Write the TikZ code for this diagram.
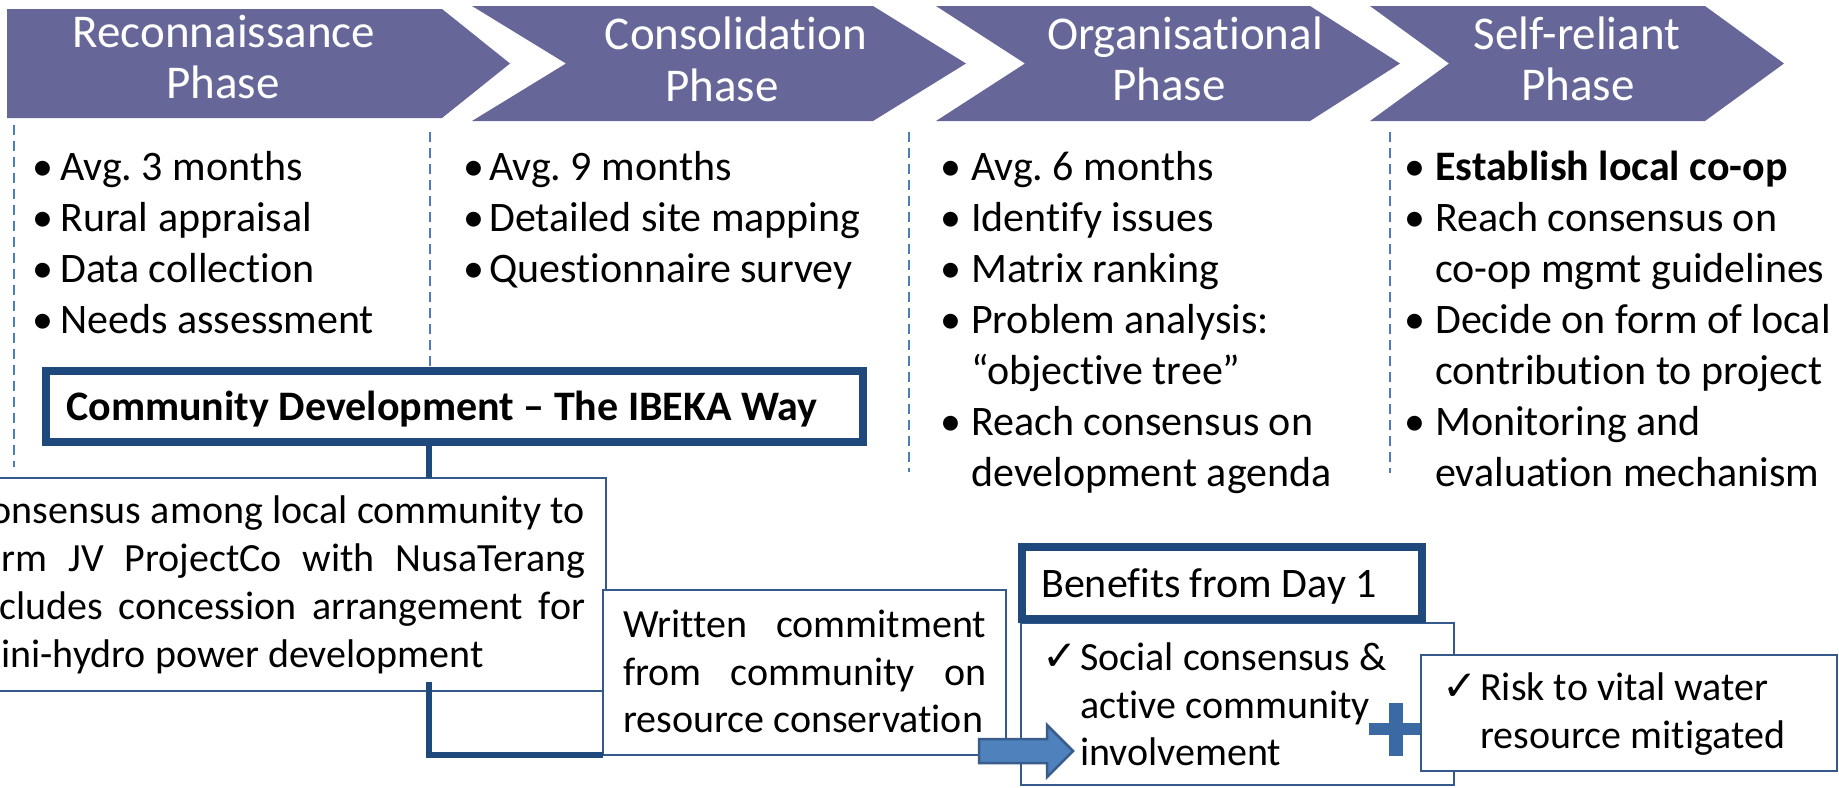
\documentclass[tikz,border=0pt]{standalone}
\usepackage{fontspec}
\setmainfont{Carlito}[Ligatures=NoCommon]
\newfontfamily\dejavu{DejaVu Sans}
\frenchspacing
\definecolor{chevfill}{HTML}{666699}
\definecolor{dashblue}{HTML}{4A7EBB}
\definecolor{thickblue}{HTML}{1F497D}
\definecolor{thinblue}{HTML}{34598A}
\definecolor{arrowfill}{HTML}{4F81BD}
\definecolor{arrowline}{HTML}{385D8A}
\definecolor{plusblue}{HTML}{3B69A3}
\tikzset{
  hdr/.style={text=white, font=\fontsize{47}{52}\selectfont, inner sep=0pt, anchor=base},
  bul/.style={font=\fontsize{42}{51}\selectfont, inner sep=0pt, anchor=base west},
  bdot/.style={font=\fontsize{42}{51}\selectfont, inner sep=0pt, anchor=base},
  btxt/.style={font=\fontsize{40}{48}\selectfont, inner sep=0pt, anchor=base west},
  chk/.style={font=\dejavu\fontsize{42}{42}\selectfont, inner sep=0pt, anchor=base west},
  sepline/.style={draw=dashblue, line width=1.5pt, dash pattern=on 10pt off 6pt},
  thinbox/.style={draw=thinblue, line width=2pt, fill=white, inner sep=0pt, outer sep=0pt, anchor=north west},
  thickbox/.style={draw=thickblue, line width=8pt, fill=white, inner sep=0pt, outer sep=0pt, anchor=north west},
  link/.style={draw=thickblue, line width=6pt},
}
\begin{document}
\begin{tikzpicture}[x=1pt,y=-1pt]
\path[use as bounding box] (0,0) rectangle (1839,787);
\clip (0,0) rectangle (1839,787);
\fill[white] (0,0) rectangle (1839,787);

% chevrons
\fill[chevfill] (7,9) -- (442,9) -- (510,63.5) -- (442,118) -- (7,118) -- cycle;
\fill[chevfill] (472,6) -- (873,6) -- (966,63.5) -- (873,121) -- (472,121) -- (566,63.5) -- cycle;
\fill[chevfill] (936,6) -- (1310,6) -- (1400,63.5) -- (1310,121) -- (936,121) -- (1025,63.5) -- cycle;
\fill[chevfill] (1370,6) -- (1705,6) -- (1784,63.5) -- (1705,121) -- (1370,121) -- (1449,63.5) -- cycle;

\node[hdr] (h1a) at (224,47) {Reconnaissance};
\node[hdr] (h1b) at (223,98) {Phase};
\node[hdr] (h2a) at (736,49) {Consolidation};
\node[hdr] (h2b) at (722,101) {Phase};
\node[hdr] (h3a) at (1185,49) {Organisational};
\node[hdr] (h3b) at (1169,100) {Phase};
\node[hdr] (h4a) at (1577,49) {Self-reliant};
\node[hdr] (h4b) at (1578,100) {Phase};

% dashed separators
\draw[sepline] (14,125) -- (14,467);
\draw[sepline] (430,132) -- (430,367);
\draw[sepline] (909,132) -- (909,472);
\draw[sepline] (1390,132) -- (1390,473);

% column 1
\node[bdot] (d11) at (43,180) {•}; \node[bul] (t11) at (60,180) {Avg. 3 months};
\node[bdot] (d12) at (43,231) {•}; \node[bul] (t12) at (60,231) {Rural appraisal};
\node[bdot] (d13) at (43,282) {•}; \node[bul] (t13) at (60,282) {Data collection};
\node[bdot] (d14) at (43,333) {•}; \node[bul] (t14) at (60,333) {Needs assessment};

% column 2
\node[bdot] (d21) at (474,180) {•}; \node[bul] (t21) at (489,180) {Avg. 9 months};
\node[bdot] (d22) at (474,231) {•}; \node[bul] (t22) at (489,231) {Detailed site mapping};
\node[bdot] (d23) at (474,282) {•}; \node[bul] (t23) at (489,282) {Questionnaire survey};

% column 3
\node[bdot] (d31) at (951,180) {•}; \node[bul] (t31) at (971,180) {Avg. 6 months};
\node[bdot] (d32) at (951,231) {•}; \node[bul] (t32) at (971,231) {Identify issues};
\node[bdot] (d33) at (951,282) {•}; \node[bul] (t33) at (971,282) {Matrix ranking};
\node[bdot] (d34) at (951,333) {•}; \node[bul] (t34) at (971,333) {Problem analysis:};
\node[bul] (t35) at (971,384) {“objective tree”};
\node[bdot] (d36) at (951,435) {•}; \node[bul] (t36) at (971,435) {Reach consensus on};
\node[bul] (t37) at (971,486) {development agenda};

% column 4
\node[bdot] (d41) at (1415,180) {•}; \node[bul, font=\fontsize{42}{51}\selectfont\bfseries] (t41) at (1435,180) {Establish local co-op};
\node[bdot] (d42) at (1415,231) {•}; \node[bul] (t42) at (1435,231) {Reach consensus on};
\node[bul] (t43) at (1435,282) {co-op mgmt guidelines};
\node[bdot] (d44) at (1415,333) {•}; \node[bul] (t44) at (1435,333) {Decide on form of local};
\node[bul] (t45) at (1435,384) {contribution to project};
\node[bdot] (d46) at (1415,435) {•}; \node[bul] (t46) at (1435,435) {Monitoring and};
\node[bul] (t47) at (1435,486) {evaluation mechanism};

% IBEKA box
\node[thickbox, minimum width=817pt, minimum height=71pt] (ibeka) at (46,371) {};
\node[bul, font=\fontsize{42}{51}\selectfont\bfseries] (ibekatxt) at (66,420) {Community Development – The IBEKA Way};

% consensus box
\node[thinbox, minimum width=646pt, minimum height=213pt] (cons) at (-40,478) {};
\node[btxt] (c1) at (-31,523) {\makebox[616pt][s]{Consensus among local community to}};
\node[btxt] (c2) at (-31,571) {\makebox[616pt][s]{form JV ProjectCo with NusaTerang}};
\node[btxt] (c3) at (-31,619) {\makebox[616pt][s]{includes concession arrangement for}};
\node[btxt] (c4) at (-31,667) {mini-hydro power development};

% written commitment box
\node[thinbox, minimum width=403pt, minimum height=165pt] (written) at (603,590) {};
\node[btxt] (w1) at (623,637) {\makebox[363pt][s]{Written commitment}};
\node[btxt] (w2) at (623,685) {\makebox[363pt][s]{from community on}};
\node[btxt] (w3) at (623,732) {resource conservation};

% connectors
\coordinate (cx) at (429,0);
\coordinate (l2s) at (429,682);
\draw[link] (ibeka.south -| cx) -- (cons.north -| cx);
\draw[link] (l2s) |- (written.south west);

% benefits
\node[thinbox, minimum width=433pt, minimum height=162pt] (bencont) at (1021,623) {};
\node[thickbox, minimum width=400pt, minimum height=72pt] (benhdr) at (1022,547) {};
\node[bul] (bentxt) at (1041,597) {Benefits from Day 1};
\node[chk] (k1) at (1042,670) {✓};
\node[btxt] (s1) at (1080,670) {Social consensus \&};
\node[btxt] (s2) at (1080,718) {active community};
\node[btxt] (s3) at (1080,765) {involvement};

% block arrow
\filldraw[fill=arrowfill, draw=arrowline, line width=2.5pt, line join=miter]
  (979,739) -- (1047,739) -- (1047,725) -- (1073,751) -- (1047,777) -- (1047,763) -- (979,763) -- cycle;

% plus
\fill[plusblue] (1389,703) rectangle (1403,756);
\fill[plusblue] (1369,723) rectangle (1421,735);

% risk box
\node[thinbox, minimum width=416pt, minimum height=116pt] (risk) at (1421,655) {};
\node[chk] (k2) at (1442,700) {✓};
\node[btxt] (r1) at (1480,700) {Risk to vital water};
\node[btxt] (r2) at (1480,748) {resource mitigated};
\end{tikzpicture}
\end{document}
